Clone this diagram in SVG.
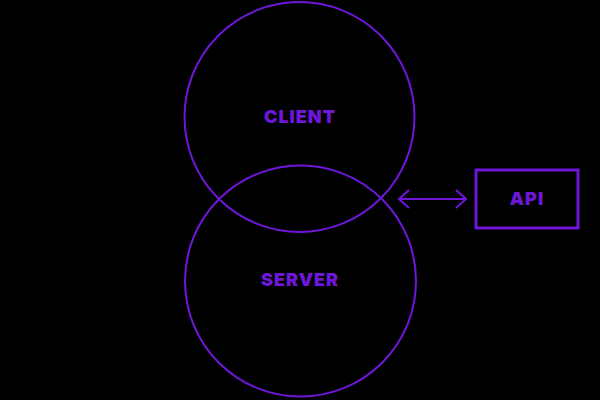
<svg xmlns="http://www.w3.org/2000/svg" width="600" height="400" viewBox="0 0 600 400">
<defs>
<style>
.shape{fill:none;stroke:#6e17d9;stroke-width:2}
.box{stroke-width:3}
.lbl{font-family:Inter,"Noto Sans",sans-serif;font-weight:900;font-size:18px;fill:#6e17d9;text-anchor:middle;letter-spacing:1px}
</style>
<marker id="ah" viewBox="0 0 12 20" refX="11" refY="10" markerWidth="12" markerHeight="20" markerUnits="userSpaceOnUse" orient="auto-start-reverse">
<path d="M1,1 L11,10 L1,19" fill="none" stroke="#6e17d9" stroke-width="2"/>
</marker>
</defs>
<rect width="600" height="400" fill="#000"/>
<g id="client">
<circle class="shape" cx="299.5" cy="117" r="115"/>
<text class="lbl" x="300" y="122.5">CLIENT</text>
</g>
<g id="server">
<circle class="shape" cx="300.5" cy="281" r="115.5"/>
<text class="lbl" x="300" y="286">SERVER</text>
</g>
<g id="api">
<rect class="shape box" x="476" y="170" width="102" height="58"/>
<text class="lbl" x="527" y="205">API</text>
</g>
<g id="connectors">
<line class="shape" x1="399" y1="199" x2="466" y2="199" marker-start="url(#ah)" marker-end="url(#ah)"/>
</g>
</svg>
